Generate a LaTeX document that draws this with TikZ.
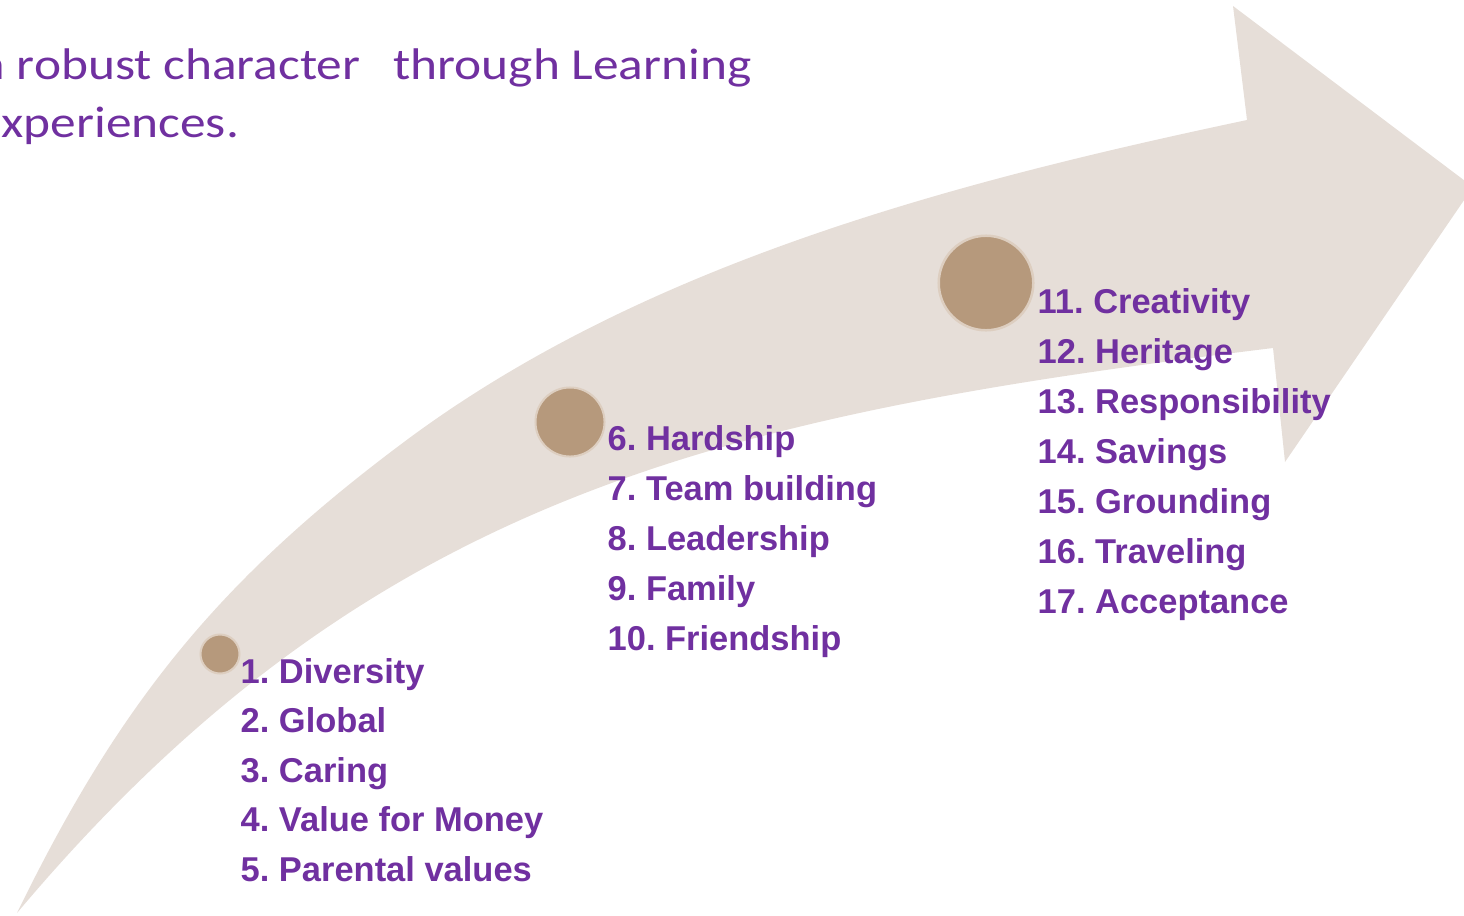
\documentclass[tikz,border=0pt]{standalone}
\usepackage{fontspec}
\setmainfont{Liberation Sans}
\newfontfamily\headfont[FakeStretch=1.16]{Carlito}
\definecolor{band}{HTML}{E6DED8}
\definecolor{bead}{HTML}{B6997C}
\definecolor{beadring}{HTML}{DDCEC0}
\definecolor{plum}{HTML}{7030A0}
\frenchspacing
\begin{document}
\begin{tikzpicture}[x=0.01cm, y=-0.01cm,
  dot/.style={shape=circle, fill=bead, draw=beadring, inner sep=0pt},
  item/.style={anchor=base west, inner sep=0pt, text=plum,
    font=\bfseries\fontsize{9.8}{12}\selectfont},
  head/.style={anchor=base west, inner sep=0pt, text=plum,
    font=\headfont\fontsize{12.6}{15}\selectfont}]
\useasboundingbox (0,0) rectangle (1464,915);
% the rising arrow
\fill[band] (17,913) .. controls (118,706) and (216,583) .. (400,445)
  .. controls (640,264) and (954,182) .. (1247,120)
  -- (1233,6) -- (1473,187) -- (1285,462) -- (1273,348)
  .. controls (727,415) and (371,492) .. (17,913) -- cycle;
% title
\node[head] (t1) at (-20,79) {a robust character\hspace{0.75em}through Learning};
\node[head] (t2) at (-24,137) {experiences.};
% beads on the arrow
\node[dot, minimum size=0.39cm, line width=0.02cm] (s1) at (220,654) {};
\node[dot, minimum size=0.69cm, line width=0.02cm] (s2) at (570,422) {};
\node[dot, minimum size=0.945cm, line width=0.025cm] (s3) at (986,283) {};
% lists
\foreach \w [count=\i] in {Diversity, Global, Caring, Value for Money, Parental values}
  \node[item] (a\i) at (240,{683+(\i-1)*49.5}) {\i. \w};
\foreach \w [count=\i from 6] in {Hardship, Team building, Leadership, Family, Friendship}
  \node[item] (b\i) at (607,{450+(\i-6)*50}) {\i. \w};
\foreach \w [count=\i from 11] in {Creativity, Heritage, Responsibility, Savings, Grounding, Traveling, Acceptance}
  \node[item] (c\i) at (1037,{313+(\i-11)*50}) {\i. \w};
\end{tikzpicture}
\end{document}
